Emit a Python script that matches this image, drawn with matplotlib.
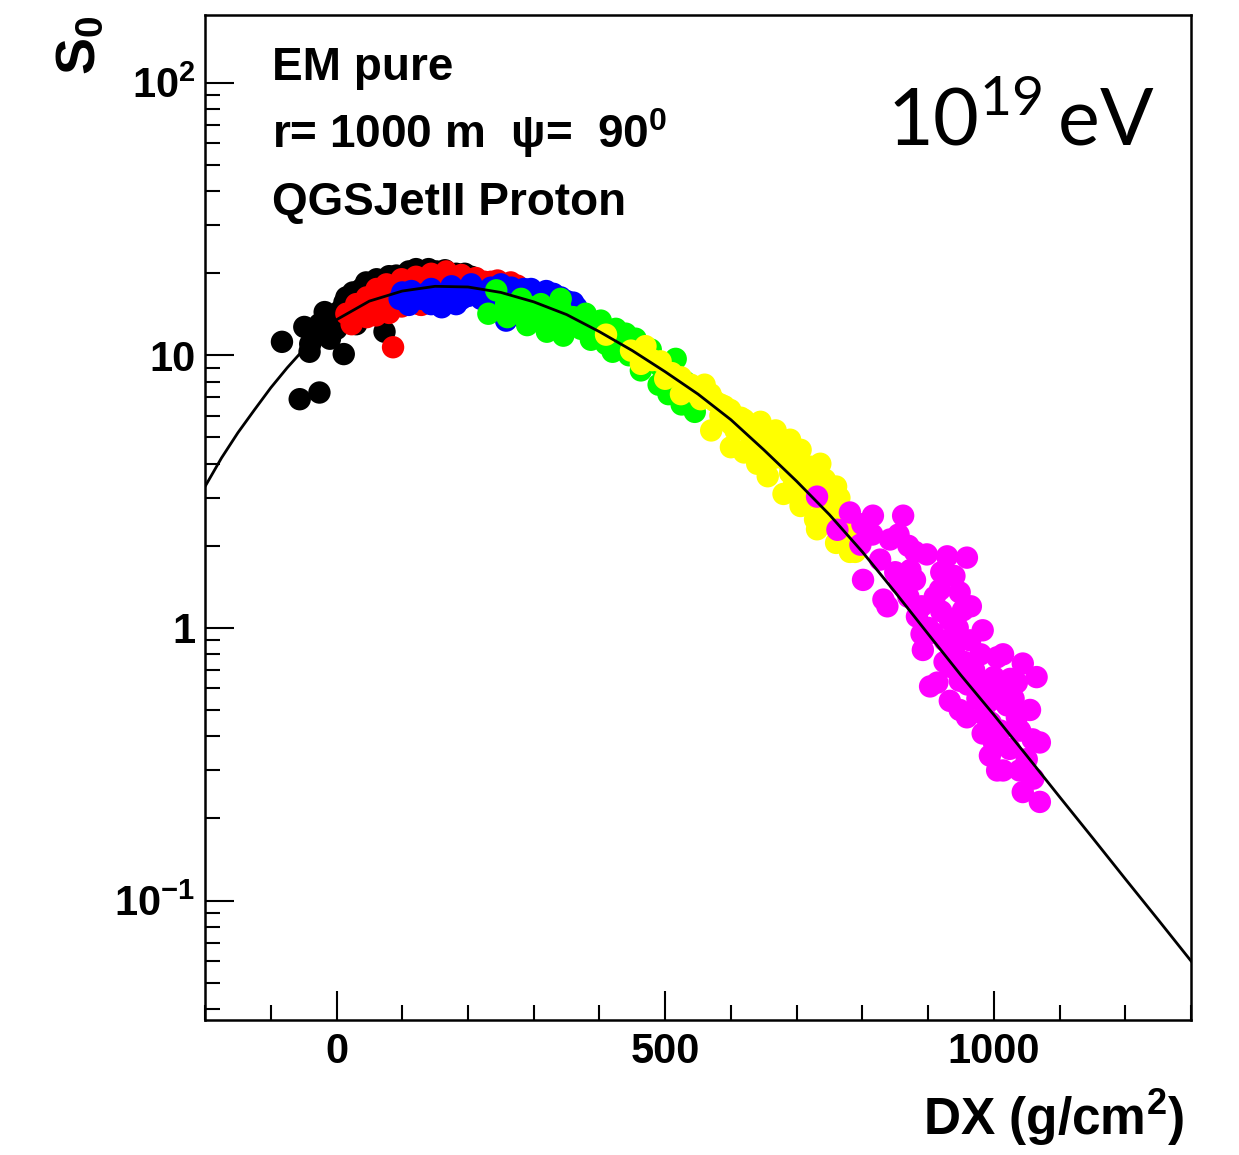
import matplotlib
matplotlib.use("Agg")
import matplotlib.pyplot as plt
from matplotlib.ticker import FixedLocator, MultipleLocator, LogLocator, NullFormatter

plt.rcParams['mathtext.fontset'] = 'custom'
plt.rcParams['mathtext.rm'] = 'Lato'
plt.rcParams['mathtext.bf'] = 'Liberation Sans:bold'
plt.rcParams['mathtext.it'] = 'Liberation Sans:bold'

# ---------------- data ----------------
black_dx = [-83, -56, -26, 11, -41, -49, -18, -26, -8, 15, 15, 38, 73, 30, 12, 23,
            61, 91, 121, 152, 182, 205, 45, 70, 100, 130,
            -30, -10, 0, 5, 25, 50, 80, 110, 140, 165, 195, -40, -15, 5]
black_s = [11.2, 6.9, 7.3, 10.1, 10.3, 12.7, 14.4, 13.0, 13.6, 16.3, 14.2, 17.5, 12.2, 13.0, 15.6, 16.1,
           19.0, 19.6, 20.7, 20.3, 19.9, 19.4, 18.5, 18.8, 19.5, 20.0,
           12.0, 11.5, 12.5, 14.5, 17.0, 18.3, 19.5, 20.3, 20.7, 20.5, 19.9, 11.0, 12.5, 13.5]

red_dx = [86, 15, 30, 46, 61, 76, 99, 121, 144, 167, 190, 212, 235, 258, 23, 46, 68, 99,
          129, 159, 38, 83, 114, 137, 182, 220, 126,
          25, 40, 55, 70, 85, 105, 125, 150, 175, 200, 225, 245, 265, 275, 60, 80]
red_s = [10.7, 14.2, 15.4, 16.3, 17.5, 18.2, 19.0, 19.4, 19.9, 20.3, 19.7, 19.2, 18.6, 18.2, 13.0, 13.8, 14.6, 15.1,
         15.3, 16.1, 14.8, 16.1, 17.2, 16.8, 17.5, 17.5, 15.4,
         14.5, 15.5, 16.5, 16.8, 17.5, 18.0, 18.5, 19.0, 19.2, 19.0, 18.6, 18.8, 18.5, 18.0, 14.0, 14.3]

blue_dx = [96, 114, 129, 144, 159, 175, 190, 205, 220, 235, 250, 266, 281, 296, 319, 341,
           360, 182, 144, 258, 250, 205, 110, 160,
           100, 120, 135, 150, 165, 185, 200, 215, 230, 245, 270, 285, 300, 310, 330, 350, 365]
blue_s = [16.1, 17.2, 16.1, 17.5, 16.1, 17.9, 16.1, 17.5, 16.1, 17.7, 16.3, 17.7, 16.8, 17.5, 17.2, 16.3,
          15.6, 15.4, 15.4, 13.4, 18.2, 18.2, 15.3, 15.0,
          17.0, 16.5, 16.8, 16.8, 16.8, 16.8, 16.5, 17.0, 16.5, 17.0, 16.5, 17.5, 16.5, 16.0, 16.8, 15.8, 15.0]

green_dx = [243, 231, 258, 281, 304, 326, 311, 341, 349, 372, 379, 402, 402, 425, 432, 455,
            463, 478, 493, 485, 508, 524, 539, 516, 341, 281, 370, 440, 387, 420, 463,
            260, 290, 320, 345, 360, 395, 410, 445, 470, 500, 530, 545, 300, 330, 390, 440, 455,
            490, 505, 525, 545]
green_s = [17.3, 14.2, 15.4, 14.2, 13.6, 13.0, 15.4, 14.8, 12.7, 12.5, 14.2, 13.4, 11.5, 12.5, 11.0, 11.5,
           10.1, 10.5, 9.1, 9.5, 8.7, 7.5, 7.0, 9.7, 16.1, 16.1, 13.5, 12.0, 11.4, 10.3, 8.8,
           13.8, 12.9, 12.2, 11.8, 13.8, 12.0, 11.0, 10.0, 9.4, 8.3, 8.0, 7.6, 15.0, 14.5, 13.0, 10.8, 11.0,
           7.8, 7.2, 6.6, 6.2]

yellow_dx = [410, 448, 470, 493, 524, 539, 554, 569, 584, 599, 615, 622, 637, 645, 660, 668,
             690, 675, 698, 706, 721, 736, 690, 713, 706, 728, 743, 751, 728, 758, 774, 789,
             653, 630, 607, 584, 554, 524, 500, 463,
             480, 510, 545, 560, 575, 590, 600, 620, 630, 650, 665, 680, 685, 700, 715, 720,
             735, 745, 760, 770, 780, 790, 765, 740, 710, 695, 665, 640, 760,
             600, 620, 640, 656, 680, 706, 731, 760, 781, 570]
yellow_s = [11.9, 10.4, 10.8, 9.5, 8.3, 7.8, 7.5, 7.2, 6.6, 6.3, 5.9, 5.4, 5.3, 5.7, 4.9, 5.3,
            4.9, 4.4, 3.8, 4.5, 3.9, 4.0, 3.7, 3.4, 2.9, 3.0, 3.5, 3.1, 2.5, 2.5, 2.2, 1.9,
            4.4, 4.7, 5.3, 6.0, 6.9, 7.2, 8.2, 9.3,
            9.6, 8.6, 7.3, 7.8, 6.8, 6.5, 5.6, 5.8, 5.2, 5.0, 4.6, 4.8, 4.1, 4.2, 3.6, 3.2,
            3.3, 2.8, 2.8, 2.6, 2.35, 2.1, 3.0, 2.6, 3.0, 3.3, 4.2, 4.8, 3.3,
            4.6, 4.4, 4.0, 3.6, 3.1, 2.8, 2.3, 2.05, 1.9, 5.3]

magenta_dx = [731, 781, 816, 862, 762, 797, 842, 898, 929, 959, 801, 832, 918, 948, 953, 983,
              892, 914, 948, 1014, 1044, 1065, 1059, 1014, 1044, 1070, 933, 983, 1035, 983, 959,
              1024, 933, 1035, 1005, 883, 857, 907, 838, 903, 1005, 1070, 873, 827, 994, 964,
              933, 1009, 1039, 994, 948,
              850, 870, 880, 890, 900, 910, 920, 925, 940, 945, 955, 960, 970, 975, 985, 995,
              1000, 1010, 1020, 1025, 1030, 1040, 1050, 1055, 1060, 1000, 980, 965, 940, 880,
              855, 815, 800, 870, 920, 890, 925]
magenta_s = [3.03, 2.65, 2.58, 2.58, 2.29, 2.02, 2.11, 1.86, 1.83, 1.81, 1.50, 1.27, 1.38, 1.35, 1.16, 0.98,
             0.83, 0.63, 0.50, 0.80, 0.74, 0.66, 0.39, 0.30, 0.25, 0.23, 0.72, 0.63, 0.47, 0.41, 0.47,
             0.36, 0.54, 0.63, 0.78, 1.10, 1.46, 0.96, 1.20, 0.61, 0.30, 0.38, 1.63, 1.78, 0.54, 0.90,
             1.07, 0.59, 0.30, 0.34, 0.64,
             1.6, 1.3, 1.5, 1.2, 1.0, 1.3, 1.15, 0.9, 0.85, 1.0, 0.75, 0.62, 0.7, 0.55, 0.48, 0.45,
             0.66, 0.42, 0.52, 0.65, 0.55, 0.42, 0.33, 0.5, 0.28, 0.38, 0.8, 1.2, 1.55, 1.9,
             2.2, 2.2, 2.4, 2.0, 1.6, 0.95, 0.75]

fit_dx = [-200, -175, -150, -125, -100, -75, -50, -25, 0, 50, 100, 150, 200, 250, 300, 350,
          400, 450, 500, 550, 600, 650, 700, 750, 800, 850, 900, 950, 1000, 1050, 1100, 1150,
          1200, 1250, 1300]
fit_s = [3.3, 4.2, 5.2, 6.3, 7.6, 9.0, 10.5, 12.0, 13.5, 15.8, 17.2, 17.9, 17.8, 17.0, 15.7, 14.1,
         12.2, 10.4, 8.7, 7.2, 5.8, 4.5, 3.45, 2.6, 1.9, 1.35, 0.95, 0.67, 0.48, 0.34, 0.24, 0.17,
         0.12, 0.085, 0.060]

x_major = [0, 500, 1000]
x_labels = ['0', '500', '1000']
y_major = [0.1, 1, 10, 100]
y_labels = [r'10$^{\mathbf{-1}}$', '1', '10', r'10$^{\mathbf{2}}$']

# ---------------- figure ----------------
fig = plt.figure(figsize=(12.39, 11.55), dpi=100)
ax = fig.add_axes([0.1655, 0.117, 0.7958, 0.87])

groups = [(black_dx, black_s, '#000000'), (red_dx, red_s, '#ff0000'),
          (blue_dx, blue_s, '#0000ff'), (green_dx, green_s, '#00ff00'),
          (yellow_dx, yellow_s, '#ffff00'), (magenta_dx, magenta_s, '#ff00ff')]
for dx, s, c in groups:
    ax.scatter(dx, s, s=260, c=c, edgecolors='none', zorder=2)

ax.plot(fit_dx, fit_s, color='black', lw=2.0, zorder=3)

ax.set_yscale('log')
ax.set_xlim(-200, 1300)
ax.set_ylim(0.0365, 177)

ax.xaxis.set_major_locator(FixedLocator(x_major))
ax.set_xticklabels(x_labels)
ax.xaxis.set_minor_locator(MultipleLocator(100))
ax.yaxis.set_major_locator(FixedLocator(y_major))
ax.set_yticklabels(y_labels)
ax.yaxis.set_minor_locator(LogLocator(base=10, subs=[2, 3, 4, 5, 6, 7, 8, 9], numticks=20))
ax.yaxis.set_minor_formatter(NullFormatter())

for lab in ax.get_xticklabels() + ax.get_yticklabels():
    lab.set_fontfamily('Liberation Sans')
    lab.set_fontweight('bold')
    lab.set_fontsize(30)

ax.tick_params(which='both', direction='in', top=False, right=False, width=1.5, color='black')
ax.tick_params(which='major', length=21)
ax.tick_params(which='minor', length=11)
ax.tick_params(axis='x', which='major', pad=9)
ax.tick_params(axis='y', which='major', pad=7)
for sp in ax.spines.values():
    sp.set_linewidth(1.8)

# labels
fig.text(0.956, 0.017, r'DX (g/cm$^{\mathbf{2}}$)', ha='right', va='baseline',
         family='Liberation Sans', weight='bold', size=37)
fig.text(0.066, 0.987, r'S$_{\mathbf{0}}$', rotation=90, ha='center', va='top',
         family='Liberation Sans', weight='bold', size=40)

info = dict(family='Liberation Sans', weight='bold', size=33, va='baseline', ha='left')
fig.text(0.2195, 0.9307, 'EM pure', **info)
fig.text(0.2195, 0.8719, r'r= 1000 m  ψ=  90$^{\mathbf{0}}$', **info)
fig.text(0.2195, 0.8139, 'QGSJetII Proton', **info)

fig.text(0.716, 0.8745, r'10$^{19}\,$eV', ha='left', va='baseline', family='Lato', size=57)

fig.savefig('out.png', dpi=100)
